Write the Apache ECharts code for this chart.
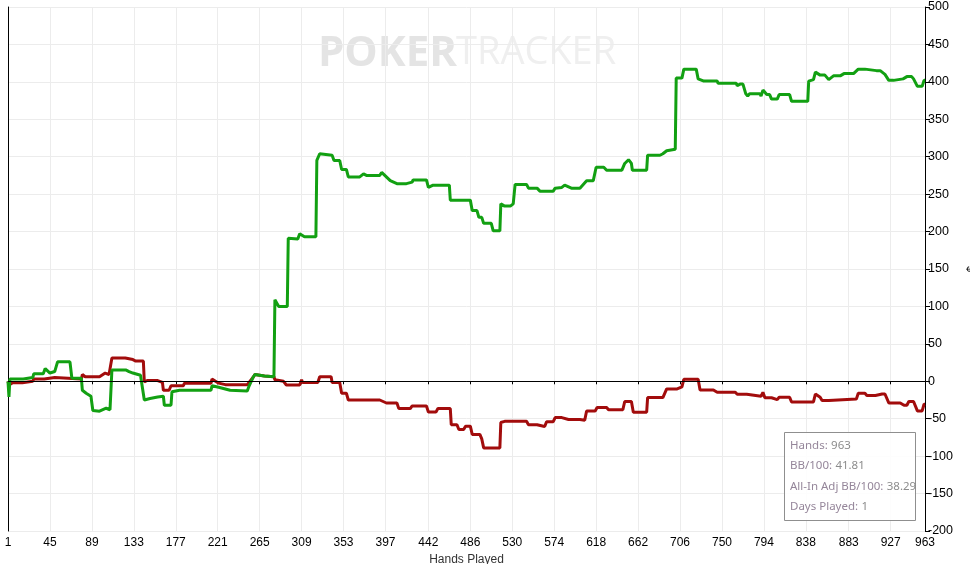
<!DOCTYPE html>
<html>
  <head>
      <meta charset="utf-8">
      <script src="https://cdn.jsdelivr.net/npm/echarts@6/dist/echarts.min.js"></script>
      <style>
        html, body { margin: 0; padding: 0; background: #fff; }
      </style>
  </head>
<body>
    <div id="main" style="width: 970px;height:564px;"></div>
    <script type="text/javascript">
        // hand numbers shown on the bottom axis
        var handTicks = [1, 45, 89, 133, 177, 221, 265, 309, 353, 397, 442, 486, 530, 574, 618, 662, 706, 750, 794, 838, 883, 927, 963];

        // green line: [hand, big blinds]
        var netWon = [
            [1, 0], [2, -21], [3, 3], [17, 3], [18, 5], [27, 5], [28, 10], [38, 10], [40, 17], [45, 11],
            [50, 13], [53, 26], [66, 26], [68, 4], [78, 4], [79, -12], [83, -16], [88, -20], [90, -39], [97, -40],
            [99, -42], [104, -36], [108, -38], [110, 15], [125, 15], [128, 13], [132, 11], [140, 8], [144, -25], [150, -23],
            [158, -21], [164, -20], [165, -32], [172, -32], [173, -14], [181, -12], [214, -12], [215, -6], [222, -8], [234, -12],
            [252, -13], [254, -6], [258, 5], [260, 9], [270, 7], [280, 6], [281, 109], [285, 100], [294, 100], [295, 191],
            [305, 190], [307, 197], [312, 193], [324, 193], [325, 295], [328, 304], [341, 302], [343, 295], [349, 295], [351, 283],
            [356, 283], [358, 273], [370, 273], [374, 277], [377, 275], [391, 275], [393, 279], [402, 268], [409, 264], [419, 264],
            [421, 266], [425, 266], [426, 269], [440, 269], [442, 259], [447, 262], [464, 262], [465, 242], [473, 242], [475, 240],
            [478, 242], [486, 242], [488, 228], [493, 228], [495, 219], [498, 219], [500, 211], [508, 211], [510, 201], [517, 201],
            [518, 237], [522, 234], [528, 234], [531, 237], [533, 263], [545, 263], [547, 258], [556, 258], [559, 254], [573, 254],
            [575, 258], [582, 259], [585, 262], [592, 258], [601, 258], [603, 256], [608, 268], [615, 268], [618, 286], [626, 286],
            [629, 282], [645, 282], [647, 284], [648, 291], [652, 296], [655, 291], [656, 282], [671, 282], [672, 302], [685, 302],
            [688, 304], [692, 308], [701, 310], [702, 405], [708, 405], [710, 417], [723, 417], [725, 404], [731, 401], [745, 401],
            [746, 398], [765, 398], [766, 395], [769, 397], [772, 397], [775, 384], [777, 381], [779, 384], [790, 384], [791, 381],
            [793, 389], [797, 383], [800, 383], [802, 377], [808, 377], [810, 383], [821, 383], [823, 374], [840, 374], [841, 401],
            [846, 403], [848, 413], [853, 409], [858, 409], [862, 403], [867, 408], [874, 408], [878, 411], [888, 411], [890, 409],
            [893, 417], [900, 417], [902, 415], [912, 415], [914, 413], [916, 415], [921, 410], [925, 402], [930, 402], [932, 404],
            [940, 404], [942, 402], [944, 407], [949, 407], [951, 404], [955, 394], [960, 394], [962, 402], [963, 402]
        ];

        // red line: [hand, big blinds]
        var nonShowdown = [
            [1, 0], [2, -5], [6, -2], [16, -2], [17, 0], [27, 0], [28, 3], [39, 3], [40, 5], [50, 5],
            [52, 3], [78, 3], [79, 9], [82, 6], [97, 6], [103, 11], [107, 9], [109, 9], [110, 31], [124, 31],
            [126, 30], [132, 29], [135, 27], [143, 27], [144, -1], [147, 1], [158, 1], [163, -1.5], [164, -12], [170, -12],
            [172, -6], [185, -6], [186, -2.5], [214, -2.5], [215, 3], [222, -2.5], [229, -4.5], [252, -4.5], [253, -7], [254, -6],
            [258, 5], [260, 9], [270, 7], [280, 6], [281, 2], [290, 0], [293, -5], [307, -5], [309, 2], [310, -1.5],
            [326, -1.5], [328, 6], [340, 6], [341, -1.5], [349, -1.5], [351, -16], [356, -16], [358, -25], [391, -25], [393, -23],
            [398, -29], [409, -29], [411, -36.5], [423, -36.5], [425, -33], [440, -33], [442, -41], [450, -41], [452, -36.5], [465, -36.5],
            [466, -58], [472, -58], [474, -64.5], [479, -64.5], [481, -60], [486, -60], [488, -71], [496, -71], [498, -77], [500, -89],
            [517, -89], [518, -55], [522, -53.5], [545, -53.5], [547, -58], [556, -58], [558, -60.5], [564, -60.5], [566, -54], [573, -54],
            [575, -48.5], [582, -48.5], [584, -47], [589, -51], [601, -51], [606, -52], [608, -39.6], [617, -39.6], [619, -35], [629, -35],
            [631, -38], [646, -38], [647, -36], [648, -27], [655, -27], [657, -41.4], [671, -41.4], [672, -21.7], [688, -21.7], [690, -20.5],
            [692, -10.2], [703, -10.2], [704, -7.6], [708, -7.6], [710, 2.7], [725, 2.7], [727, -11.6], [741, -11.6], [745, -14.7], [764, -14.7],
            [766, -17.4], [776, -17.4], [778, -20], [791, -20], [793, -14.7], [795, -22], [802, -22], [804, -24.5], [808, -24.5], [810, -21.4],
            [821, -21.4], [823, -27.6], [846, -27.6], [848, -17], [853, -21.4], [855, -25.8], [862, -25.8], [864, -23.6], [891, -23.6], [893, -16],
            [900, -16], [902, -19], [911, -19], [913, -21.4], [918, -17], [921, -17], [925, -28.9], [937, -28.9], [941, -32], [944, -32],
            [946, -27], [951, -27], [955, -39.6], [960, -39.6], [962, -30.7], [963, -30.7]
        ];

        // summary box lines
        var statLabels = ['Hands:', 'BB/100:', 'All-In Adj BB/100:', 'Days Played:'];
        var statValues = ['963', '41.81', '38.29', '1'];

        var axisFont = '"Liberation Sans", Arial, sans-serif';
        var boxFont = '"Noto Sans", "Open Sans", sans-serif';

        var statText = statLabels.map(function (l, i) {
            return '{l|' + l + '} {v|' + statValues[i] + '}';
        }).join('\n');

        var myChart = echarts.init(document.getElementById('main'));
        myChart.setOption({
            animation: false,
            backgroundColor: '#fff',
            grid: { left: 8, right: 45, top: 7, bottom: 33, outerBoundsMode: 'none', containLabel: false },
            graphic: [
                {
                    type: 'text', left: 318, top: 33, z: 0, silent: true,
                    style: { text: 'POKER', fill: '#e4e4e4', font: 'bold 42px "Open Sans", sans-serif' }
                },
                {
                    type: 'text', left: 456, top: 34, z: 0, silent: true,
                    style: { text: 'TRACKER', fill: '#efefef', font: '38px "Open Sans", sans-serif' }
                },
                {
                    type: 'rect', left: 784, top: 432, z: 100,
                    shape: { width: 131, height: 88 },
                    style: { fill: 'rgba(255,255,255,0.9)', stroke: '#8f8f8f', lineWidth: 1 }
                },
                {
                    type: 'text', left: 790, top: 435, z: 101,
                    style: {
                        text: statText,
                        lineHeight: 20.5,
                        rich: {
                            l: { fill: '#95869a', fontSize: 11.5, fontFamily: boxFont, lineHeight: 20.5 },
                            v: { fill: '#8c8c8c', fontSize: 11.5, fontFamily: boxFont, lineHeight: 20.5 }
                        }
                    }
                }
            ],
            xAxis: {
                type: 'value',
                min: 1,
                max: 963,
                name: 'Hands Played',
                nameLocation: 'middle',
                nameGap: 23,
                nameTextStyle: { color: '#333', fontSize: 12, fontFamily: axisFont },
                axisLine: { show: true, lineStyle: { color: '#000', width: 1 } },
                axisTick: { show: true, length: 3, customValues: handTicks, lineStyle: { color: '#000' } },
                axisLabel: { customValues: handTicks, color: '#000', fontSize: 12, fontFamily: axisFont, margin: 6 },
                splitLine: { show: true, lineStyle: { color: '#ececec', width: 1 } }
            },
            yAxis: [
                {
                    type: 'value',
                    position: 'right',
                    min: -200,
                    max: 500,
                    interval: 50,
                    name: '$',
                    nameLocation: 'middle',
                    nameGap: 40,
                    nameRotate: -90,
                    nameTextStyle: { color: '#000', fontSize: 10, fontFamily: axisFont },
                    axisLine: { show: true, lineStyle: { color: '#000', width: 1 } },
                    axisTick: { show: true, length: 5, lineStyle: { color: '#000' } },
                    axisLabel: { color: '#000', fontSize: 12.5, fontFamily: axisFont, margin: 3 },
                    splitLine: { show: true, lineStyle: { color: '#ececec', width: 1 } }
                },
                {
                    type: 'value',
                    position: 'left',
                    min: -200,
                    max: 500,
                    axisLine: { show: true, lineStyle: { color: '#000', width: 1 } },
                    axisTick: { show: false },
                    axisLabel: { show: false },
                    splitLine: { show: false }
                }
            ],
            series: [
                {
                    name: 'Non-Showdown Winnings',
                    type: 'line',
                    data: nonShowdown,
                    showSymbol: false,
                    symbol: 'none',
                    z: 3,
                    lineStyle: { color: '#a20c0c', width: 3 },
                    markLine: {
                        silent: true,
                        symbol: 'none',
                        label: { show: false },
                        lineStyle: { color: '#000', width: 1, type: 'solid' },
                        data: [{ yAxis: 0 }]
                    }
                },
                {
                    name: 'Net Won',
                    type: 'line',
                    data: netWon,
                    showSymbol: false,
                    symbol: 'none',
                    z: 4,
                    lineStyle: { color: '#12a012', width: 3 }
                }
            ]
        });
    </script>
</body>
</html>
